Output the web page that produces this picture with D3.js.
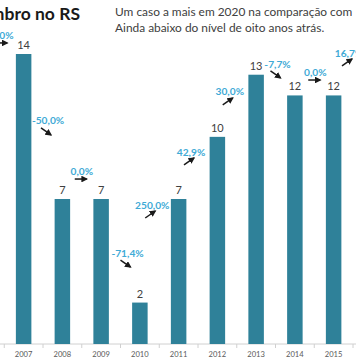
<!DOCTYPE html>
<html><head><meta charset="utf-8">
<script src="https://cdn.jsdelivr.net/npm/d3@7"></script>
<style>
html,body{margin:0;padding:0;background:#fff;overflow:hidden}
svg{display:block;font-family:Lato,"Open Sans",sans-serif}
</style></head>
<body>
<svg id="c" width="356" height="364"></svg>
<script>
const years = [2006,2007,2008,2009,2010,2011,2012,2013,2014,2015,2016];
const cases = [14,14,7,7,2,7,10,13,12,12,14];
const visibleYears = [2007,2008,2009,2010,2011,2012,2013,2014,2015];
// vertical level (in case units) of each change label, hand-placed in the original
const changeLevels = [14.92,10.77,8.35,4.39,6.71,9.27,12.17,13.52,13.13,14.05];
const changeShift = [-2,5,0,7,-7,-7,-7,2,1,-4];
const titleText = "Dezembro no RS";
const subtitleLines = ["Um caso a mais em 2020 na comparação com","Ainda abaixo do nível de oito anos atrás."];

const svg = d3.select("#c");
const W = 356, H = 364;
const x = d3.scaleBand().domain(years).range([-34.5, 391.75]).paddingInner(0.6).paddingOuter(0.3);
const y = d3.scaleLinear().domain([0,14]).range([344,54]);
const valueOf = yr => cases[years.indexOf(yr)];

svg.append("defs").append("marker").attr("id","ah").attr("viewBox","0 0 10 10")
  .attr("refX",8).attr("refY",5).attr("markerWidth",4.5).attr("markerHeight",4.5).attr("orient","auto")
  .append("path").attr("d","M0,0L10,5L0,10z").attr("fill","#1a1a1a");

// title & subtitle
svg.append("text").attr("x",80).attr("y",20).attr("text-anchor","end")
  .attr("font-size",17.5).attr("font-weight","bold").attr("fill","#1a1a1a").text(titleText);
svg.selectAll("text.sub").data(subtitleLines).enter().append("text").attr("class","sub")
  .attr("x",115).attr("y",(d,i)=>16+i*15.5).attr("font-size",11.9).attr("fill","#404040").text(d=>d);

// axis
const xAxisScale = x.copy().domain(visibleYears).range([x(2007)-x.step()*0.3, x(2015)+x.step()*0.7]);
const axis = d3.axisBottom(xAxisScale).tickSize(0).tickPadding(8);
const ag = svg.append("g").attr("transform","translate(0,344)").call(axis);
ag.select(".domain").remove();
ag.selectAll("text").attr("font-size",7.6).attr("fill","#595959").attr("font-family","Lato,'Open Sans',sans-serif");
ag.append("line").attr("x1",0).attr("x2",W).attr("y1",0).attr("y2",0).attr("stroke","#d0d0d0");
ag.selectAll("line.tk").data(years.slice(1)).enter().append("line").attr("class","tk")
  .attr("x1",d=>x(d)-x.step()*0.3).attr("x2",d=>x(d)-x.step()*0.3).attr("y1",0).attr("y2",4).attr("stroke","#d0d0d0");

// bars
svg.selectAll("rect.bar").data(years).enter().append("rect").attr("class","bar")
  .attr("x",d=>x(d)).attr("width",x.bandwidth())
  .attr("y",d=>y(valueOf(d))).attr("height",d=>y(0)-y(valueOf(d)))
  .attr("fill","#2f8199");

// value labels
svg.selectAll("text.val").data(visibleYears).enter().append("text").attr("class","val")
  .attr("x",d=>x(d)+x.bandwidth()/2).attr("y",d=>y(valueOf(d))-5)
  .attr("text-anchor","middle").attr("font-size",11).attr("fill","#404040").text(d=>valueOf(d));

// change labels
const fmt = v => (v*100).toFixed(1).replace(".",",")+"%";
const changes = years.slice(1).map((yr,i)=>({yr, prev:cases[i], cur:cases[i+1], lvl:changeLevels[i], dx:changeShift[i]}));
const cg = svg.selectAll("g.chg").data(changes).enter().append("g").attr("class","chg")
  .attr("transform",d=>`translate(${x(d.yr)-x.step()*0.3+d.dx},${y(d.lvl)})`);
cg.append("text").attr("text-anchor","middle").attr("dy","0.35em")
  .attr("font-size",10.2).attr("font-weight","bold").attr("fill","#3eaad6")
  .text(d=>fmt((d.cur-d.prev)/d.prev));
cg.append("line")
  .attr("x1",-7).attr("x2",d=>d.cur===d.prev?5:3)
  .attr("y1",d=>d.cur>d.prev?13:d.cur<d.prev?7:8)
  .attr("y2",d=>d.cur>d.prev?6:d.cur<d.prev?14:8)
  .attr("stroke","#1a1a1a").attr("stroke-width",1.5).attr("marker-end","url(#ah)");
</script>
</body></html>
